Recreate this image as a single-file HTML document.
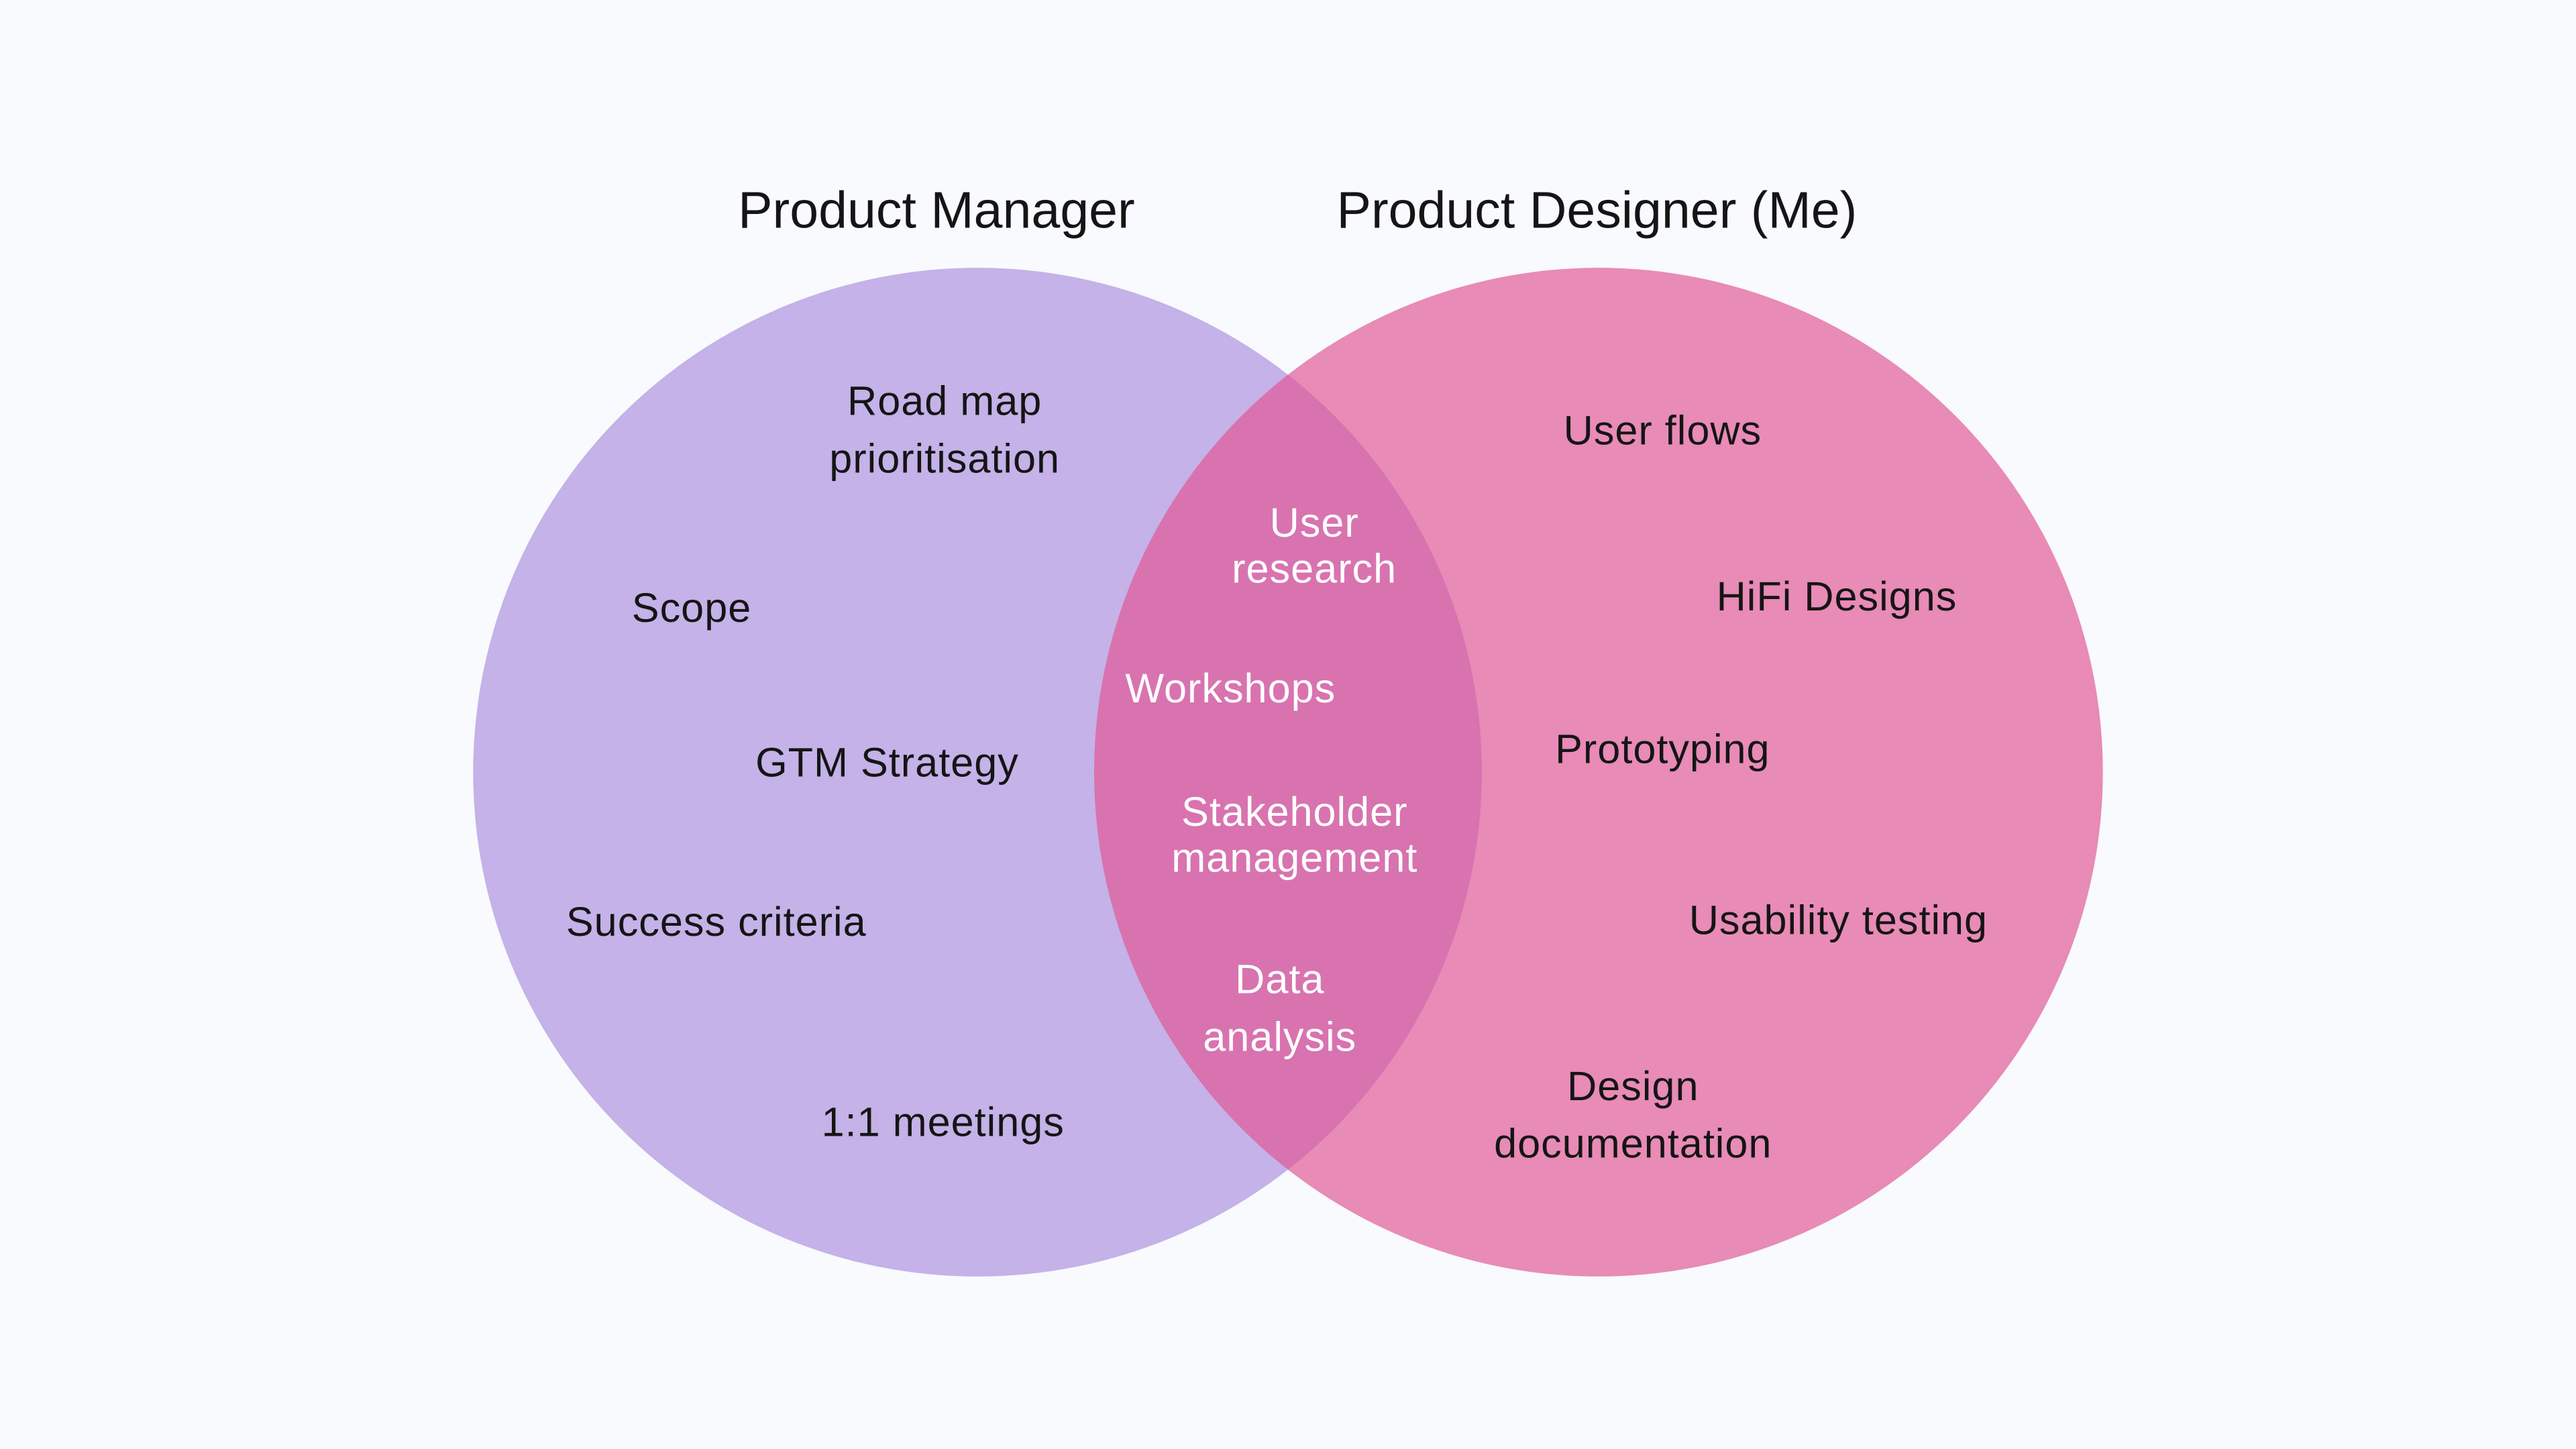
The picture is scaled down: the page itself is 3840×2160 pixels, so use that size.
<!DOCTYPE html>
<html><head><meta charset="utf-8"><style>
html,body{margin:0;padding:0;background:#f8fafd;}
svg{display:block;}
text{font-family:"Liberation Sans",sans-serif;dominant-baseline:central;text-anchor:middle;}
</style></head><body>
<svg width="3840" height="2160" viewBox="0 0 1568 882" xmlns="http://www.w3.org/2000/svg">
<rect width="1568" height="882" fill="#f8fafd"/>
<defs><clipPath id="cl"><circle cx="595" cy="470" r="307"/></clipPath></defs>
<circle cx="595" cy="470" r="307" fill="#c4b2e8"/>
<circle cx="973" cy="470" r="307" fill="#e88bb6"/>
<circle cx="973" cy="470" r="307" fill="#d873b0" clip-path="url(#cl)"/>
<g fill="#151515" font-size="31.5">
<text x="570" y="128">Product Manager</text>
<text x="972" y="128">Product Designer (Me)</text>
</g>
<g fill="#151515" font-size="25" letter-spacing="0.4">
<text x="575" y="244">Road map</text>
<text x="575" y="279">prioritisation</text>
<text x="421" y="370">Scope</text>
<text x="540" y="464">GTM Strategy</text>
<text x="436" y="561">Success criteria</text>
<text x="574" y="683">1:1 meetings</text>
<text x="1012" y="262">User flows</text>
<text x="1118" y="363">HiFi Designs</text>
<text x="1012" y="456">Prototyping</text>
<text x="1119" y="560">Usability testing</text>
<text x="994" y="661">Design</text>
<text x="994" y="696">documentation</text>
</g>
<g fill="#ffffff" font-size="25" letter-spacing="0.4">
<text x="800" y="318">User</text>
<text x="800" y="346">research</text>
<text x="749" y="419">Workshops</text>
<text x="788" y="494">Stakeholder</text>
<text x="788" y="522">management</text>
<text x="779" y="596">Data</text>
<text x="779" y="631">analysis</text>
</g>
</svg>
</body></html>
